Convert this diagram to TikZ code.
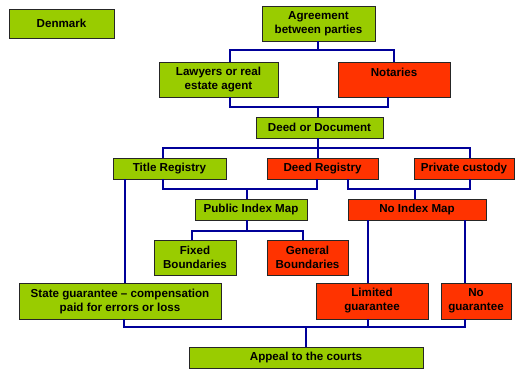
\documentclass[tikz,border=0pt]{standalone}
\usepackage{fontspec}
\setmainfont{Liberation Sans}
\definecolor{boxgreen}{HTML}{99CC00}
\definecolor{boxred}{HTML}{FF3300}
\definecolor{connblue}{HTML}{000099}
\tikzset{
  box/.style={draw=black!85, line width=0.8pt, align=center, inner sep=0pt,
    font=\fontsize{11.6}{14}\selectfont\bfseries, text=black},
  gbox/.style={box, fill=boxgreen},
  rbox/.style={box, fill=boxred},
  conn/.style={draw=connblue, line width=1.5pt, line join=miter}
}
\begin{document}
\begin{tikzpicture}[x=1pt,y=-1pt]
\useasboundingbox (0,0) rectangle (525,372);
% boxes
\node[gbox, minimum width=105, minimum height=29] (denmark) at (61.5,23.5) {Denmark};
\node[gbox, minimum width=113, minimum height=35] (agree) at (318.5,23.5) {Agreement\\between parties};
\node[gbox, minimum width=119, minimum height=35] (lawyers) at (218.5,79.5) {Lawyers or real\\estate agent};
\node[rbox, minimum width=112, minimum height=35] (notaries) at (394,79.5) {Notaries\\\mbox{}};
\node[gbox, minimum width=127, minimum height=21] (deed) at (319.5,127.5) {Deed or Document};
\node[gbox, minimum width=113, minimum height=21] (title) at (169.5,168.5) {Title Registry};
\node[rbox, minimum width=111, minimum height=21] (deedreg) at (322.5,168.5) {Deed Registry};
\node[rbox, minimum width=100, minimum height=21] (private) at (464,168.5) {Private custody};
\node[gbox, minimum width=112, minimum height=21] (public) at (251,209.5) {Public Index Map};
\node[rbox, minimum width=138, minimum height=21] (noindex) at (417,209.5) {No Index Map};
\node[gbox, minimum width=82, minimum height=35] (fixed) at (195,257.5) {Fixed\\Boundaries};
\node[rbox, minimum width=81, minimum height=35] (general) at (307.5,257.5) {General\\Boundaries};
\node[gbox, minimum width=202, minimum height=36] (state) at (120,301) {State guarantee -- compensation\\paid for errors or loss};
\node[rbox, minimum width=112, minimum height=36] (limited) at (372,301) {Limited\\guarantee};
\node[rbox, minimum width=70, minimum height=36] (nog) at (476,301) {No\\guarantee};
\node[gbox, minimum width=234, minimum height=21] (appeal) at (306,357.5) {Appeal to the courts};
% junction coordinates
\coordinate (j1) at (318,50);
\coordinate (j1l) at (230,50);
\coordinate (j2l) at (230,107);
\coordinate (j2r) at (388,107);
\coordinate (j2) at (318,107);
\coordinate (j3l) at (163,148);
\coordinate (j3r) at (470,148);
\coordinate (j4l) at (163,189);
\coordinate (j4r) at (317,189);
\coordinate (j4) at (247,189);
\coordinate (j5) at (247,231);
\coordinate (j5l) at (192,231);
\coordinate (j5r) at (303,231);
\coordinate (j6l) at (348,189);
\coordinate (j6r) at (470,189);
\coordinate (j6) at (415,189);
\coordinate (j7l) at (124,327);
\coordinate (j7r) at (465,327);
\coordinate (j7m) at (368,327);
\coordinate (j7) at (306,327);
% connectors
\draw[conn] (agree.south -| j1) -- (j1);
\draw[conn] (lawyers.north -| j1l) -- (j1l) -- (j1l -| notaries.north) -- (notaries.north);
\draw[conn] (lawyers.south -| j2l) -- (j2l) -- (j2r) -- (notaries.south -| j2r);
\draw[conn] (j2) -- (deed.north -| j2);
\draw[conn] (deed.south -| j2) -- (deedreg.north -| j2);
\draw[conn] (title.north -| j3l) -- (j3l) -- (j3r) -- (private.north -| j3r);
\draw[conn] (title.south -| j4l) -- (j4l) -- (j4r) -- (deedreg.south -| j4r);
\draw[conn] (j4) -- (public.north -| j4);
\draw[conn] (public.south -| j5) -- (j5);
\draw[conn] (fixed.north -| j5l) -- (j5l) -- (j5r) -- (general.north -| j5r);
\draw[conn] (deedreg.south -| j6l) -- (j6l) -- (j6r) -- (private.south -| j6r);
\draw[conn] (j6) -- (noindex.north -| j6);
\draw[conn] (noindex.south -| j7m) -- (limited.north -| j7m);
\draw[conn] (noindex.south -| j7r) -- (nog.north -| j7r);
\draw[conn] (title.south -| 125,0) -- (state.north -| 125,0);
\draw[conn] (state.south -| j7l) -- (j7l) -- (j7r) -- (nog.south -| j7r);
\draw[conn] (limited.south -| j7m) -- (j7m);
\draw[conn] (j7) -- (appeal.north -| j7);
\end{tikzpicture}
\end{document}
